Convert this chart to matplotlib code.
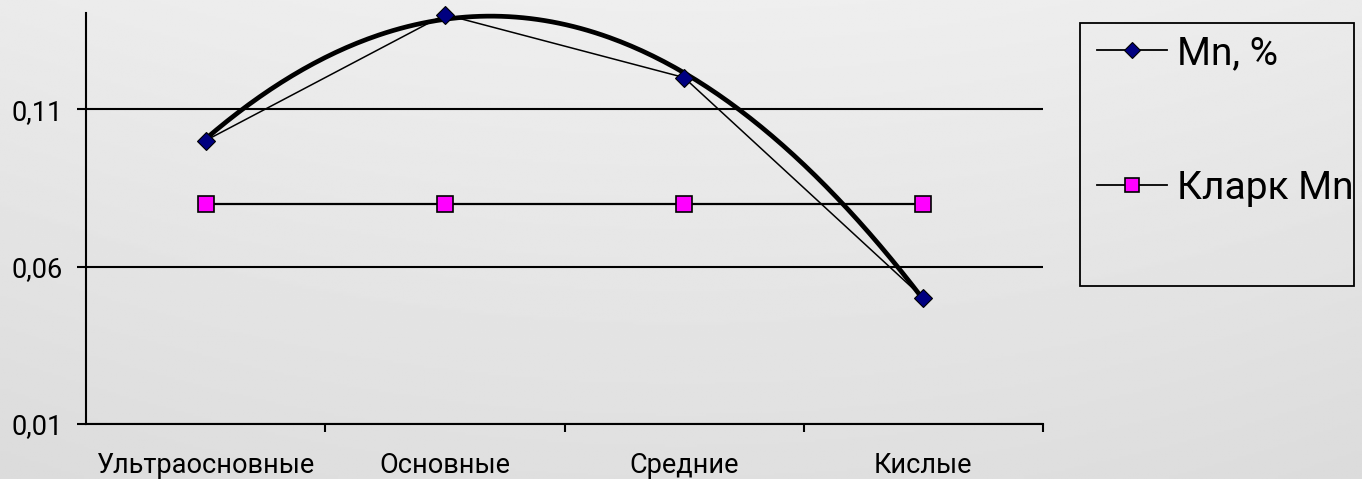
import numpy as np
import matplotlib.pyplot as plt
from matplotlib.lines import Line2D
from matplotlib.patches import Rectangle

plt.rcParams['font.family'] = ['Roboto', 'DejaVu Sans']

# rock types and Mn content
categories = ['Ультраосновные', 'Основные', 'Средние', 'Кислые']
mn = [0.10, 0.14, 0.12, 0.05]
clarke_mn = [0.08, 0.08, 0.08, 0.08]
y_ticks = [0.01, 0.06, 0.11]
y_labels = ['0,01', '0,06', '0,11']

W, H = 1362, 479
fig = plt.figure(figsize=(W / 100, H / 100), dpi=100)
fig.patch.set_facecolor('#e6e6e6')

# soft grey backdrop, a bit lighter at the top
bg = fig.add_axes([0, 0, 1, 1], zorder=-10)
gy = np.linspace(0, 1, 200)[:, None]
gx = np.linspace(-1, 1, 300)[None, :]
shade = 0.935 - 0.06 * gy - 0.015 * gx ** 2
bg.imshow(shade, cmap='gray', vmin=0, vmax=1, aspect='auto',
          extent=[0, 1, 0, 1], origin='upper')
bg.axis('off')

ax = fig.add_axes([86 / W, 1 - 424 / H, (1043 - 86) / W, (424 - 13) / H])
ax.set_facecolor('none')

x = np.arange(1, len(categories) + 1)

# quadratic trend through the Mn values
coef = np.polyfit(x, mn, 2)
xt = np.linspace(1, 4, 200)
ax.plot(xt, np.polyval(coef, xt), color='black', lw=3.4, zorder=3,
        solid_capstyle='round')

ax.plot(x, clarke_mn, color='black', lw=1.6, marker='s', markersize=11,
        markerfacecolor='#ff00ff', markeredgecolor='black', markeredgewidth=1.2,
        zorder=4, clip_on=False)
ax.plot(x, mn, color='black', lw=1.1, marker='D', markersize=9,
        markerfacecolor='#000080', markeredgecolor='black', markeredgewidth=0.8,
        zorder=5, clip_on=False)

ax.set_xlim(0.5, 4.5)
ax.set_ylim(0.01, 0.1405)

ax.set_yticks(y_ticks)
ax.set_yticklabels(y_labels)
ax.set_xticks(x)
ax.set_xticklabels(categories)
ax.set_xticks([1.5, 2.5, 3.5, 4.5], minor=True)

ax.tick_params(axis='y', length=6.5, width=1.5, direction='out', pad=10.5,
               labelsize=19.5, colors='black')
ax.tick_params(axis='x', which='major', length=0, pad=20, labelsize=19.5)
ax.tick_params(axis='x', which='minor', length=6, width=1.5, direction='out')

ax.yaxis.grid(True, color='black', lw=1.5)
ax.set_axisbelow(True)

for s in ['top', 'right']:
    ax.spines[s].set_visible(False)
for s in ['left', 'bottom']:
    ax.spines[s].set_linewidth(1.5)

# legend box on the right
fig.patches.append(Rectangle((1080 / W, 1 - 286 / H), (1354 - 1080) / W, (286 - 23) / H,
                             transform=fig.transFigure, fill=False,
                             edgecolor='black', lw=1.3, zorder=1))
handles = [
    Line2D([], [], color='black', lw=1.3, marker='D', markersize=8,
           markerfacecolor='#000080', markeredgecolor='black', markeredgewidth=0.8),
    Line2D([], [], color='black', lw=1.3, marker='s', markersize=10,
           markerfacecolor='#ff00ff', markeredgecolor='black', markeredgewidth=1.2),
]
fig.legend(handles, ['Mn, %', 'Кларк Mn'], loc='upper left',
           bbox_to_anchor=(1097 / W, 1 - 35 / H), frameon=False,
           fontsize=28, handlelength=1.8, handletextpad=0.26,
           labelspacing=2.52, borderaxespad=0, borderpad=0)

fig.savefig('out.png', dpi=100)
